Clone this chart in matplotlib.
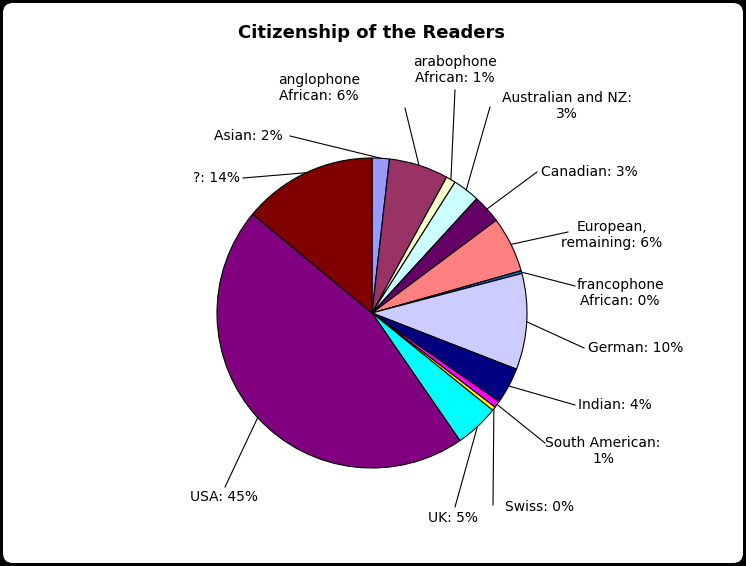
import numpy as np
import matplotlib.pyplot as plt
from matplotlib.patches import FancyBboxPatch

labels = ["Asian: 2%", "anglophone\nAfrican: 6%", "arabophone\nAfrican: 1%", "Australian and NZ:\n3%",
          "Canadian: 3%", "European,\nremaining: 6%", "francophone\nAfrican: 0%", "German: 10%",
          "Indian: 4%", "South American:\n1%", "Swiss: 0%", "UK: 5%", "USA: 45%", "?: 14%"]
values = [1.8, 6.2, 1.0, 2.8, 3.0, 5.8, 0.3, 10.0, 3.8, 0.7, 0.4, 4.6, 45.6, 14.0]
colors = ["#9999FF", "#993366", "#FFFFCC", "#CCFFFF", "#660066", "#FF8080", "#0066CC",
          "#CCCCFF", "#000080", "#FF00FF", "#FFFF00", "#00FFFF", "#800080", "#800000"]

# label text position (pixel), alignment, leader line end (pixel)
text_pos = [(283, 136, "right"), (319, 88, "center"), (455, 70, "center"), (567, 106, "center"),
            (541, 172, "left"), (612, 235, "center"), (620, 293, "center"), (588, 348, "left"),
            (578, 405, "left"), (603, 451, "center"), (505, 507, "left"), (428, 518, "left"),
            (190, 497, "left"), (240, 178, "right")]
line_end = [(290, 136), (405, 108), (455, 90), (490, 107), (537, 172), (568, 232), (575, 286),
            (584, 348), (575, 405), (545, 443), (493, 505), (455, 507), (225, 487), (243, 178)]

W, H = 746, 566
cx, cy, r = 372, 313, 155

fig = plt.figure(figsize=(7.46, 5.66), dpi=100)
fig.patch.set_facecolor("black")
ax = fig.add_axes([0, 0, 1, 1])
ax.add_patch(FancyBboxPatch((3, 3), W - 6, H - 6, boxstyle="round,pad=0,rounding_size=10",
                            facecolor="white", edgecolor="none", zorder=0))

wedges, _ = ax.pie(values, colors=colors, startangle=90, counterclock=False, center=(cx, H - cy),
                   radius=r, wedgeprops=dict(edgecolor="black", linewidth=0.8))
ax.set_xlim(0, W)
ax.set_ylim(0, H)
ax.set_aspect("equal")
ax.axis("off")

for w, lab, (tx, ty, ha), (lx, ly) in zip(wedges, labels, text_pos, line_end):
    mid = np.deg2rad((w.theta1 + w.theta2) / 2)
    ex, ey = cx + r * np.cos(mid), H - cy + r * np.sin(mid)
    ax.plot([ex, lx], [ey, H - ly], color="black", lw=0.8)
    ax.text(tx, H - ty, lab, ha=ha, va="center", fontsize=10, linespacing=1.1)

ax.text(372, H - 33, "Citizenship of the Readers", ha="center", va="center", fontsize=13, fontweight="bold")
fig.savefig("out.png", dpi=100, facecolor="black")
